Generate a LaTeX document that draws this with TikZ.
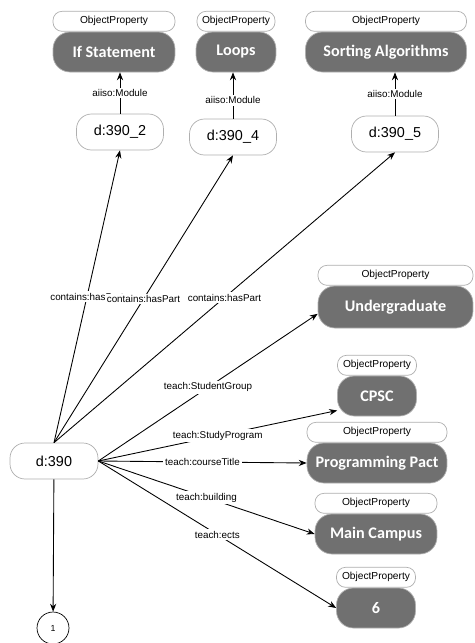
\documentclass[tikz,border=0pt]{standalone}
\usepackage{fontspec}
\setmainfont{Liberation Sans}
\newfontfamily\titlefont{Carlito}
\usetikzlibrary{arrows.meta,positioning}
\definecolor{grisNoeud}{RGB}{112,112,112}
\definecolor{grisBord}{RGB}{175,175,175}

\begin{document}
\begin{tikzpicture}[x=0.02cm,y=-0.02cm,
  indiv/.style={rectangle,rounded corners=0.3cm,minimum width=1.74cm,minimum height=0.72cm,
                inner sep=0pt,draw=grisBord,fill=white,font=\fontsize{8.2}{10}\selectfont},
  valeur/.style={rectangle,rounded corners=0.34cm,minimum height=0.8cm,inner sep=0pt,
                 draw=grisBord,fill=grisNoeud,text=white,
                 font=\titlefont\bfseries\fontsize{9.2}{11}\selectfont},
  classe/.style={rectangle,rounded corners=0.18cm,minimum height=0.4cm,inner sep=0pt,
                 draw=grisBord,fill=white,font=\fontsize{5.8}{7}\selectfont},
  lien/.style={-{Stealth[length=4.5pt,width=3.5pt]},line width=0.5pt},
  etiq/.style={fill=white,inner sep=1pt,font=\fontsize{5.6}{7}\selectfont}]

  \useasboundingbox (0,0) rectangle (475,643);

  \node[valeur,minimum width=2.44cm] (If) at (114,52) {If Statement};
  \node[classe,minimum width=2.44cm,above=0pt of If] (opIf) {ObjectProperty};
  \node[valeur,minimum width=1.6cm] (Loops) at (236,52) {Loops};
  \node[classe,minimum width=1.56cm,above=0pt of Loops] (opLoops) {ObjectProperty};
  \node[valeur,minimum width=3.22cm] (Sort) at (386,52) {Sorting Algorithms};
  \node[classe,minimum width=3.22cm,above=0pt of Sort] (opSort) {ObjectProperty};

  \node[indiv] (d3902) at (120,132) {d:390\_2};
  \node[indiv] (d3904) at (233,137) {d:390\_4};
  \node[indiv] (d3905) at (395,134) {d:390\_5};

  \node[valeur,minimum width=3.1cm,minimum height=0.84cm] (Under) at (395.5,307) {Undergraduate};
  \node[classe,minimum width=3.1cm,above=0pt of Under] (opUnder) {ObjectProperty};
  \node[valeur,minimum width=1.58cm] (CPSC) at (377,396) {CPSC};
  \node[classe,minimum width=1.58cm,above=0pt of CPSC] (opCPSC) {ObjectProperty};
  \node[valeur,minimum width=2.8cm] (Prog) at (377,463) {Programming Pact};
  \node[classe,minimum width=2.8cm,above=0pt of Prog] (opProg) {ObjectProperty};
  \node[valeur,minimum width=2.44cm] (Main) at (376,534) {Main Campus};
  \node[classe,minimum width=2.44cm,above=0pt of Main] (opMain) {ObjectProperty};
  \node[valeur,minimum width=1.58cm] (six) at (376,608) {6};
  \node[classe,minimum width=1.58cm,above=0pt of six] (opSix) {ObjectProperty};

  \node[indiv,minimum width=1.76cm] (d390) at (54,461) {d:390};
  \node[circle,draw,inner sep=0pt,minimum size=0.64cm,font=\fontsize{5}{6}\selectfont] (one) at (53,628) {1};

  \draw[lien] (d3902.north) -- (d3902.north |- If.south) node[midway,etiq]{aiiso:Module};
  \draw[lien] (d3904.north) -- (d3904.north |- Loops.south) node[pos=0.4,etiq]{aiiso:Module};
  \draw[lien] (d3905.north) -- (d3905.north |- Sort.south) node[midway,etiq]{aiiso:Module};

  \draw[lien] (d390.north) -- (d3902.south) node[midway,etiq]{contains:hasPart};
  \draw[lien] (d390.north) -- (d3904.south) node[midway,etiq]{contains:hasPart};
  \draw[lien] (d390.north) -- (d3905.south) node[midway,etiq]{contains:hasPart};

  \draw[lien] (d390.east) -- (Under.185) node[midway,etiq]{teach:StudentGroup};
  \draw[lien] (d390.east) -- (CPSC.200) node[midway,etiq]{teach:StudyProgram};
  \draw[lien] (d390.east) -- (Prog.west) node[midway,etiq]{teach:courseTitle};
  \draw[lien] (d390.east) -- (Main.west) node[midway,etiq]{teach:building};
  \draw[lien] (d390.east) -- (six.west) node[midway,etiq]{teach:ects};
  \draw[lien] (d390) -- (one);
\end{tikzpicture}
\end{document}
